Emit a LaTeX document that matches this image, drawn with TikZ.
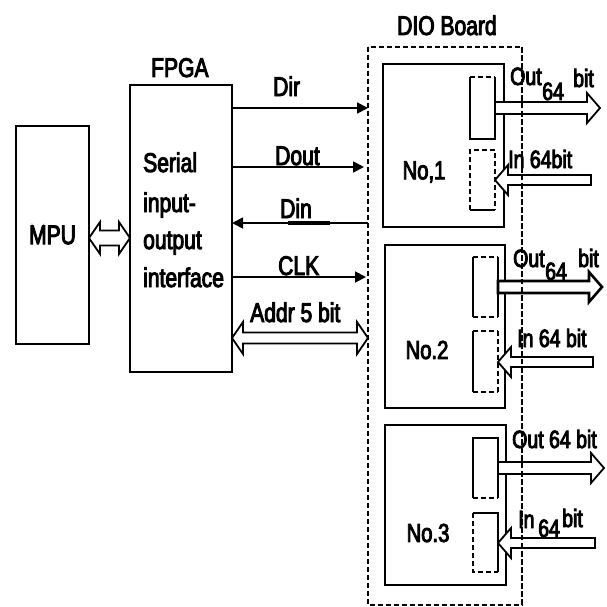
\documentclass[tikz,border=0pt]{standalone}
\usepackage{fontspec}
\setmainfont[FakeStretch=0.78,FakeBold=3.5]{Liberation Sans}
\usetikzlibrary{calc,arrows.meta}
\newcommand\fatarr[4][]{%
  \draw[fat,#1] let \p1=(#2), \p2=(#3), \n1={(\x2>\x1)?1:-1} in
  (\x1,\y1+#4) -- ({\x2-\n1*13pt},\y1+#4) -- ({\x2-\n1*13pt},\y1+15pt) -- (\x2,\y1)
  -- ({\x2-\n1*13pt},\y1-15pt) -- ({\x2-\n1*13pt},\y1-#4) -- (\x1,\y1-#4) -- cycle;}
\newcommand\fatdbl[6][]{%
  \draw[fat,#1] let \p1=(#2), \p2=(#3) in
  (\x1,\y1) -- (\x1+#6,\y1+#5) -- (\x1+#6,\y1+#4) -- (\x2-#6,\y1+#4) -- (\x2-#6,\y1+#5)
  -- (\x2,\y1) -- (\x2-#6,\y1-#5) -- (\x2-#6,\y1-#4) -- (\x1+#6,\y1-#4) -- (\x1+#6,\y1-#5) -- cycle;}
\newcommand\regbox[4]{% name, x, y(top), height
  \node[inner sep=0pt, outer sep=0pt, minimum width=25pt, minimum height=#4pt, anchor=north west] (#1) at (#2,#3) {};}
\begin{document}
\begin{tikzpicture}[x=1pt,y=-1pt,
  box/.style={draw, line width=2pt, inner sep=0pt, outer sep=0pt, anchor=north west},
  lbl/.style={inner sep=0pt, anchor=base west, font=\fontsize{27}{30}\selectfont},
  slbl/.style={inner sep=0pt, anchor=base west, font=\fontsize{25}{28}\selectfont},
  sig/.style={line width=1.8pt, -{Triangle[length=11pt,width=11pt]}},
  fat/.style={draw, fill=white, line width=1.8pt, line join=miter},
  dsh/.style={line width=1.5pt, dash pattern=on 5pt off 3pt},
  sol/.style={line width=1.8pt},
]
\useasboundingbox (0,0) rectangle (606,607);

% main boxes
\node[box, minimum width=73pt, minimum height=218pt] (mpu) at (16,126) {};
\node[inner sep=0pt, font=\fontsize{27}{30}\selectfont] (mputxt) at (mpu.center) {MPU};
\node[box, minimum width=102pt, minimum height=287pt] (fpga) at (130,85) {};
\node[lbl] (fpgatxt) at (151,77) {FPGA};
\node[lbl] (s1) at (143,172) {Serial};
\node[lbl] (s2) at (143,212) {input-};
\node[lbl] (s3) at (143,249) {output};
\node[lbl] (s4) at (143,287) {interface};

% DIO board
\node[box, draw=none, minimum width=154pt, minimum height=558pt] (dio) at (368,47) {};
\draw[dsh] (dio.north west) rectangle (dio.south east);
\node[lbl] (diotxt) at (397,35) {DIO Board};

\node[box, minimum width=121pt, minimum height=163pt] (b1) at (383,64) {};
\node[box, minimum width=120pt, minimum height=163pt] (b2) at (385,245) {};
\node[box, minimum width=121pt, minimum height=160pt] (b3) at (385,425) {};
\node[inner sep=0pt, font=\fontsize{26}{30}\selectfont] (n1) at (424,172) {No,1};
\node[inner sep=0pt, font=\fontsize{26}{30}\selectfont] (n2) at (427,350) {No.2};
\node[inner sep=0pt, font=\fontsize{26}{30}\selectfont] (n3) at (428,533) {No.3};

% registers
\regbox{r1o}{470}{77}{62}
\regbox{r1i}{470}{150}{60}
\regbox{r2o}{473}{257}{60}
\regbox{r2i}{473}{331}{61}
\regbox{r3o}{473}{438}{60}
\regbox{r3i}{473}{513}{59}

\draw[dsh] (r1o.north west) -- (r1o.north east);
\draw[sol] (r1o.north east) -- (r1o.south east) -- (r1o.south west) -- (r1o.north west);
\draw[dsh] (r1i.south west) -- (r1i.north west) -- (r1i.north east) -- (r1i.south east);
\draw[sol] (r1i.south west) -- (r1i.south east);
\draw[dsh] (r2o.north west) -- (r2o.north east);
\draw[dsh] (r2o.south west) -- (r2o.south east);
\draw[sol] (r2o.north west) -- (r2o.south west);
\draw[sol] (r2o.north east) -- (r2o.south east);
\draw[dsh] (r2i.north west) -- (r2i.north east);
\draw[dsh] (r2i.south west) -- (r2i.south east);
\draw[sol] (r2i.north west) -- (r2i.south west);
\draw[dsh] (r2i.north east) -- (r2i.south east);
\draw[sol] (r3o.south east) -- (r3o.north east) -- (r3o.north west) -- (r3o.south west);
\draw[dsh] (r3o.south west) -- (r3o.south east);
\draw[sol] (r3i.north west) -- (r3i.north east) -- (r3i.south east);
\draw[dsh] (r3i.north west) -- (r3i.south west) -- (r3i.south east);

% signal lines
\draw[sig] (fpga.east |- 0,108) -- (dio.west |- 0,108);
\draw[sig] (fpga.east |- 0,167) -- ($(dio.west |- 0,167)+(-4,0)$);
\draw[sig] (dio.west |- 0,223) -- (fpga.east |- 0,223);
\draw[line width=3.5pt] (288,223) -- (330,223);
\draw[sig] (fpga.east |- 0,277) -- ($(dio.west |- 0,277)+(-2,0)$);
\fatdbl{fpga.east |- 0,338}{dio.west |- 0,338}{5.5pt}{16pt}{11pt}
\fatdbl{mpu.east |- 0,238}{fpga.west |- 0,238}{7.5pt}{16pt}{11pt}

\node[lbl] (ldir) at (273,96) {Dir};
\node[lbl] (ldout) at (275,165) {Dout};
\node[lbl] (ldin) at (280,218) {Din};
\node[lbl] (lclk) at (278,275) {CLK};
\node[lbl] (laddr) at (250,322) {Addr 5 bit};

% out/in bus arrows
\coordinate (t1) at (600,108);
\coordinate (i1) at (591,180);
\coordinate (t2) at (602,287);
\coordinate (i2) at (593,362);
\coordinate (t3) at (604,468);
\coordinate (i3) at (595,543);
\fatarr{r1o.east}{t1}{6pt}
\fatarr{i1}{r1i.east}{5pt}
\fatarr[line width=2.6pt]{r2o.east}{t2}{6pt}
\fatarr{i2}{r2i.east}{5pt}
\fatarr{r3o.east}{t3}{6pt}
\fatarr{i3}{r3i.east}{5pt}

% dashed right edge drawn over the arrows
\draw[dsh] (dio.north east) -- (dio.south east);

\node[slbl] (o1a) at (510,85) {Out};
\node[slbl] (o1b) at (542,100) {64};
\node[slbl] (o1c) at (573,87) {bit};
\node[slbl] (in1) at (508,168) {In 64bit};
\node[slbl] (o2a) at (513,267) {Out};
\node[slbl] (o2b) at (545,280) {64};
\node[slbl] (o2c) at (578,267) {bit};
\node[slbl] (in2) at (517,347) {In 64 bit};
\node[slbl] (o3) at (512,448) {Out 64 bit};
\node[slbl] (in3a) at (518,528) {In};
\node[slbl] (in3b) at (538,537) {64};
\node[slbl] (in3c) at (562,527) {bit};
\end{tikzpicture}
\end{document}
